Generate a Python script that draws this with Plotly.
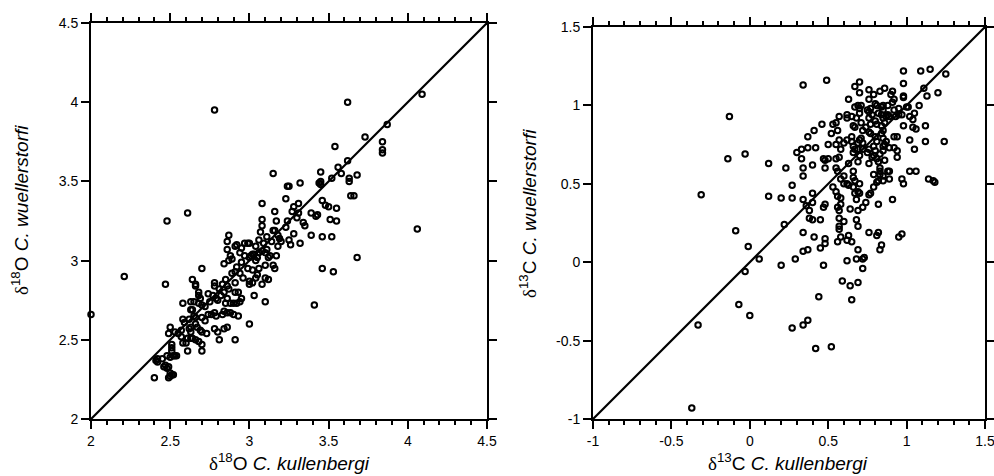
import plotly.graph_objects as go

# ---------------- data: delta 18O ----------------
o18_kullenbergi = [
    2.00, 2.21, 2.47, 2.48, 2.61, 2.78, 3.62, 4.09, 3.87, 3.73, 3.54, 3.84, 3.84, 3.84, 3.62, 3.56, 3.58, 3.68, 3.63, 3.63,
    3.64, 3.66, 3.52, 3.45, 3.45, 3.44, 3.45, 3.15, 3.24, 3.25, 3.32, 3.23, 3.46, 3.48, 3.50, 3.55, 3.42, 3.43, 3.39, 3.51,
    3.55, 4.06, 3.46, 3.52, 3.39, 3.32, 3.46, 3.53, 3.68, 3.41,
    3.08, 3.16, 3.27, 3.28, 3.31, 3.31, 3.34, 3.35, 3.30, 3.08, 3.17, 3.24, 3.23, 3.25, 3.26, 3.28,
    3.08, 3.07, 3.15, 3.16, 3.18, 3.20, 3.18, 3.19, 3.06, 3.09, 3.11, 3.14, 3.11, 3.13, 3.10, 3.12, 3.17,
    3.06, 3.08, 3.04, 3.05, 3.02, 3.03, 3.01, 3.00, 3.04,
    2.87, 2.86, 2.86, 2.91, 2.92, 2.97, 2.99, 3.00, 2.95, 2.97, 2.94,
    2.84, 2.87, 2.88, 2.89, 2.92, 2.95, 2.94, 2.96, 2.99, 3.00, 3.00, 3.02, 3.02, 3.04, 3.05, 3.06,
    3.10, 3.08, 3.10, 3.12, 3.10, 3.03, 3.15, 3.16,
    2.70, 2.64, 2.66, 2.66, 2.78, 2.78, 2.81, 2.83, 2.84, 2.85, 2.86, 2.87, 2.89, 2.91, 2.91,
    2.68, 2.68, 2.69, 2.74, 2.77, 2.75, 2.79, 2.80, 2.82, 2.86, 2.85, 2.88, 2.90, 2.92, 2.91, 2.93, 2.95, 2.94,
    2.58, 2.63, 2.65, 2.68, 2.70, 2.72, 2.74, 2.76, 2.78, 2.79, 2.83, 2.84, 2.86, 2.88, 2.90, 2.93,
    2.63, 2.64, 2.65, 2.66, 2.70, 2.67, 2.66,
    2.58, 2.59, 2.62, 2.63, 2.62, 2.63,
    2.72, 2.78, 2.80, 2.84, 2.86, 2.81, 2.91, 3.00,
    2.50, 2.49, 2.53, 2.55, 2.57, 2.57, 2.58, 2.60, 2.61, 2.63, 2.64, 2.66, 2.68, 2.70, 2.70, 2.69, 2.70, 2.73, 2.61,
    2.51, 2.51, 2.51, 2.52, 2.53, 2.54, 2.50,
    2.42, 2.41, 2.42, 2.45, 2.47, 2.46, 2.48, 2.49, 2.48,
    2.40, 2.49, 2.50, 2.51, 2.52, 2.50,
]
o18_wuellerstorfi = [
    2.66, 2.90, 2.85, 3.25, 3.30, 3.95, 4.00, 4.05, 3.86, 3.78, 3.72, 3.75, 3.70, 3.68, 3.63, 3.59, 3.55, 3.54, 3.52, 3.50,
    3.41, 3.41, 3.52, 3.56, 3.50, 3.49, 3.48, 3.55, 3.47, 3.47, 3.49, 3.39, 3.38, 3.35, 3.34, 3.33, 3.28, 3.29, 3.30, 3.26,
    3.25, 3.20, 3.15, 3.15, 3.16, 3.11, 2.95, 2.93, 3.02, 2.72,
    3.36, 3.31, 3.31, 3.34, 3.36, 3.30, 3.24, 3.22, 3.27, 3.26, 3.25, 3.25, 3.21, 3.13, 3.10, 3.17,
    3.22, 3.18, 3.19, 3.19, 3.16, 3.12, 3.09, 3.14, 3.13, 3.11, 3.15, 3.12, 3.07, 3.03, 3.05, 3.02, 3.03,
    3.05, 3.06, 3.00, 3.02, 3.04, 3.04, 3.03, 3.02, 3.09,
    3.16, 3.12, 3.07, 3.09, 3.10, 3.11, 3.11, 3.11, 3.08, 3.03, 3.05,
    2.98, 3.00, 3.03, 3.01, 2.96, 2.99, 2.92, 2.89, 2.95, 2.85, 2.87, 2.94, 2.86, 2.89, 2.91, 2.95,
    2.97, 2.85, 2.89, 2.88, 2.74, 2.78, 2.97, 2.95,
    2.95, 2.88, 2.85, 2.84, 2.86, 2.84, 2.82, 2.85, 2.80, 2.88, 2.84, 2.82, 2.92, 2.93, 2.86,
    2.80, 2.78, 2.76, 2.79, 2.78, 2.74, 2.76, 2.75, 2.78, 2.76, 2.73, 2.73, 2.73, 2.73, 2.80, 2.80, 2.76, 2.74,
    2.73, 2.74, 2.74, 2.73, 2.72, 2.71, 2.66, 2.66, 2.67, 2.65, 2.66, 2.68, 2.67, 2.67, 2.66, 2.65,
    2.69, 2.69, 2.65, 2.64, 2.64, 2.58, 2.60,
    2.63, 2.61, 2.63, 2.58, 2.57, 2.55,
    2.62, 2.57, 2.55, 2.57, 2.58, 2.50, 2.50, 2.60,
    2.58, 2.54, 2.55, 2.54, 2.56, 2.52, 2.48, 2.48, 2.51, 2.51, 2.51, 2.50, 2.49, 2.47, 2.43, 2.56, 2.55, 2.54, 2.43,
    2.47, 2.45, 2.43, 2.40, 2.40, 2.40, 2.39,
    2.38, 2.37, 2.36, 2.38, 2.34, 2.33, 2.32, 2.33, 2.40,
    2.26, 2.26, 2.27, 2.28, 2.28, 2.29,
]

# ---------------- data: delta 13C ----------------
c13_kullenbergi = [
    -0.37, -0.33, -0.31, -0.13, -0.14, -0.03, -0.09, -0.01, 0.06, -0.03, -0.07, 0.00,
    0.12, 0.12, 0.20, 0.20, 0.23, 0.22, 0.27, 0.27, 0.29, 0.27, 0.34, 0.37, 0.42, 0.52, 0.44,
    0.34, 0.49, 0.30, 0.33, 0.33, 0.34, 0.34, 0.37, 0.41, 0.37, 0.42, 0.40, 0.34, 0.36, 0.38, 0.38, 0.40, 0.40, 0.40,
    0.34, 0.41, 0.37, 0.34, 0.45, 0.48, 0.48, 0.47, 0.45, 0.47, 0.48,
    0.46, 0.50, 0.47, 0.48, 0.50, 0.48, 0.52, 0.53, 0.55, 0.57, 0.55, 0.57, 0.58, 0.56, 0.55, 0.57, 0.55, 0.56, 0.58,
    0.60, 0.60, 0.53, 0.55, 0.56, 0.58, 0.58, 0.56, 0.57, 0.57, 0.57, 0.57, 0.60, 0.56, 0.58, 0.62, 0.63, 0.65,
    0.59, 0.64, 0.65, 0.69, 0.62, 0.68, 0.69, 0.72, 0.73, 0.72, 0.68, 0.69, 0.64, 0.69, 0.68, 0.67, 0.70, 0.69,
    0.72, 0.74, 0.76, 0.77, 0.70, 0.67, 0.63, 0.66, 0.66, 0.66, 0.63, 0.62,
    0.76, 0.81, 0.82, 0.84, 0.83, 0.82, 0.79, 0.81, 0.82, 0.85, 0.83, 0.85, 0.79, 0.83, 0.83, 0.86, 0.88, 0.89,
    0.89, 0.91, 0.95, 0.97, 0.97, 0.98, 1.02, 1.06, 1.14, 1.17, 1.18, 1.24, 1.12, 1.12, 1.05, 1.02, 1.02, 1.04,
    1.05, 1.04, 1.06, 1.00, 1.01, 1.08, 1.11, 1.13, 1.20, 1.25, 1.15, 1.09, 0.98, 0.98, 0.98, 0.98,
    0.90, 0.91, 0.92, 0.91, 0.88, 0.92, 0.93, 0.95, 0.95, 0.97, 0.98, 0.94, 0.92, 0.94, 0.94, 0.92, 0.89, 0.86,
    0.85, 0.87, 0.85, 0.84, 0.85, 0.84, 0.85, 0.84, 0.87, 0.85, 0.84, 0.85, 0.86, 0.83, 0.79, 0.76, 0.76, 0.70,
    0.67, 0.70, 0.63, 0.67, 0.69, 0.71, 0.70, 0.70, 0.68, 0.65, 0.66, 0.71, 0.62, 0.62, 0.67, 0.72, 0.74, 0.71,
    0.69, 0.67, 0.66, 0.69, 0.72, 0.70, 0.69, 0.65, 0.62, 0.60, 0.65, 0.66,
    0.77, 0.76, 0.80, 0.81, 0.82, 0.78, 0.80, 0.75, 0.76, 0.77, 0.81, 0.76, 0.77, 0.80, 0.81, 0.79, 0.76, 0.80,
    0.78, 0.81, 0.76, 0.82, 0.79, 0.75, 0.72, 0.70, 0.85, 0.83, 0.86, 0.88, 0.89,
]
c13_wuellerstorfi = [
    -0.93, -0.40, 0.43, 0.93, 0.66, 0.69, 0.20, 0.10, 0.02, -0.06, -0.27, -0.34,
    0.63, 0.42, 0.41, -0.02, 0.60, 0.24, 0.49, 0.41, 0.02, -0.42, -0.40, -0.37, -0.55, -0.54, -0.22,
    1.13, 1.16, 0.70, 0.72, 0.66, 0.60, 0.55, 0.80, 0.84, 0.73, 0.73, 0.62, 0.40, 0.36, 0.33, 0.28, 0.27, 0.38, 0.44,
    0.19, 0.16, 0.08, 0.07, 0.09, 0.12, 0.15, -0.02, 0.27, 0.35, 0.37,
    0.88, 0.75, 0.66, 0.65, 0.66, 0.60, 0.82, 0.88, 0.89, 0.93, 0.75, 0.78, 0.72, 0.84, 0.66, 0.67, 0.60, 0.58, 0.53,
    0.55, 0.50, 0.48, 0.45, 0.42, 0.41, 0.37, 0.35, 0.33, 0.28, 0.23, 0.21, 0.26, 0.13, 0.16, 0.14, 0.17, 0.13,
    -0.12, -0.15, -0.24, -0.13, 0.01, 0.02, 0.08, 0.02, 0.03, -0.04, 0.27, 0.23, 0.34, 0.33, 0.40, 0.44, 0.44, 0.45,
    0.35, 0.38, 0.43, 0.44, 0.50, 0.52, 0.49, 0.48, 0.54, 0.58, 0.63, 0.50,
    0.19, 0.17, 0.19, 0.11, 0.08, 0.37, 0.48, 0.51, 0.52, 0.52, 0.56, 0.55, 0.56, 0.58, 0.60, 0.65, 0.58, 0.58,
    0.53, 0.40, 0.16, 0.18, 0.53, 0.50, 0.58, 0.58, 0.53, 0.52, 0.51, 0.77, 0.77, 0.87, 0.72, 0.78, 0.93, 0.91,
    0.95, 0.86, 0.85, 0.99, 0.99, 1.00, 1.11, 1.06, 1.08, 1.20, 1.23, 1.22, 1.22, 1.14, 1.06, 1.05,
    1.07, 1.09, 1.04, 1.02, 1.00, 0.97, 0.93, 0.94, 0.98, 0.94, 0.87, 0.80, 0.80, 0.71, 0.67, 0.73, 0.73, 0.75,
    0.71, 0.77, 0.79, 0.82, 0.84, 0.87, 0.92, 0.94, 0.93, 0.97, 0.99, 1.00, 1.11, 1.09, 1.07, 1.10, 1.04, 1.15,
    1.12, 1.08, 1.04, 0.99, 1.00, 1.00, 0.95, 0.98, 0.92, 0.93, 0.87, 0.89, 0.94, 0.92, 0.86, 0.84, 0.86, 0.79,
    0.76, 0.72, 0.70, 0.72, 0.72, 0.68, 0.64, 0.80, 0.78, 0.76, 0.77, 0.74,
    0.98, 0.96, 1.01, 1.00, 0.95, 0.94, 0.90, 0.97, 0.92, 0.88, 0.88, 0.83, 0.82, 0.80, 0.77, 0.74, 0.72, 0.71,
    0.67, 0.66, 0.63, 0.64, 0.68, 0.70, 0.76, 0.78, 0.74, 0.69, 0.89, 0.94, 0.93,
]

assert len(o18_kullenbergi) == len(o18_wuellerstorfi), (len(o18_kullenbergi), len(o18_wuellerstorfi))
assert len(c13_kullenbergi) == len(c13_wuellerstorfi), (len(c13_kullenbergi), len(c13_wuellerstorfi))

# axis ranges / ticks
o18_range = [2, 4.5]
o18_ticks = [2, 2.5, 3, 3.5, 4, 4.5]
o18_ticklabels = ["2", "2.5", "3", "3.5", "4", "4.5"]
c13_range = [-1, 1.5]
c13_ticks = [-1, -0.5, 0, 0.5, 1, 1.5]
c13_ticklabels = ["-1", "-0.5", "0", "0.5", "1", "1.5"]

W, H = 994, 476
FONT = "Liberation Sans, Arial, sans-serif"
DELTA = "<span style='font-family:Liberation Serif, Times New Roman, serif'>δ</span>"

marker = dict(symbol="circle-open", size=5.5, color="black", line=dict(width=2, color="black"))

fig = go.Figure()
fig.add_trace(go.Scatter(x=o18_range, y=o18_range, mode="lines", line=dict(color="black", width=2.2),
                         xaxis="x", yaxis="y", showlegend=False, hoverinfo="skip"))
fig.add_trace(go.Scatter(x=o18_kullenbergi, y=o18_wuellerstorfi, mode="markers", marker=marker,
                         xaxis="x", yaxis="y", showlegend=False, cliponaxis=False))
fig.add_trace(go.Scatter(x=c13_range, y=c13_range, mode="lines", line=dict(color="black", width=2.2),
                         xaxis="x2", yaxis="y2", showlegend=False, hoverinfo="skip"))
fig.add_trace(go.Scatter(x=c13_kullenbergi, y=c13_wuellerstorfi, mode="markers", marker=marker,
                         xaxis="x2", yaxis="y2", showlegend=False, cliponaxis=False))


def ax(domain, rng, tickvals, ticktext, anchor, minor):
    d = dict(domain=domain, range=rng, tickmode="array", tickvals=tickvals, ticktext=ticktext,
             ticks="outside", ticklen=8, tickwidth=1.8, tickcolor="#000000",
             showline=True, linewidth=2, linecolor="#000000", mirror="allticks",
             showgrid=False, zeroline=False, anchor=anchor, automargin=False,
             ticklabeloverflow="allow",
             tickfont=dict(family=FONT, size=14, color="black"))
    if minor:
        d["minor"] = dict(tickmode="linear", tick0=rng[0], dtick=0.1, ticks="outside",
                          ticklen=4, tickwidth=1.5, tickcolor="#000000", showgrid=False)
    return d


def px_x(p):
    return p / W


def px_y(p):
    return 1 - p / H


fig.update_layout(
    width=W, height=H,
    margin=dict(l=0, r=0, t=0, b=0, pad=0, autoexpand=False),
    paper_bgcolor="white", plot_bgcolor="white",
    xaxis=ax([px_x(91), px_x(487)], o18_range, o18_ticks, o18_ticklabels, "y", True),
    yaxis=ax([px_y(419), px_y(23)], o18_range, o18_ticks, o18_ticklabels, "x", False),
    xaxis2=ax([px_x(593), px_x(985)], c13_range, c13_ticks, c13_ticklabels, "y2", True),
    yaxis2=ax([px_y(419), px_y(27)], c13_range, c13_ticks, c13_ticklabels, "x2", False),
)

title_font = dict(family=FONT, size=19, color="black")
annotations = [
    dict(text=DELTA + "<sup>18</sup>O <i>C. kullenbergi</i>", x=px_x(289), y=px_y(462)),
    dict(text=DELTA + "<sup>18</sup>O <i>C. wuellerstorfi</i>", x=px_x(20), y=px_y(210), textangle=-90),
    dict(text=DELTA + "<sup>13</sup>C <i>C. kullenbergi</i>", x=px_x(788), y=px_y(462)),
    dict(text=DELTA + "<sup>13</sup>C <i>C. wuellerstorfi</i>", x=px_x(528), y=px_y(214), textangle=-90),
]
for a in annotations:
    fig.add_annotation(xref="paper", yref="paper", xanchor="center", yanchor="middle",
                       showarrow=False, font=title_font, **a)

fig.write_html(
    "out.html",
    config={"displayModeBar": False},
    post_script="document.body.style.margin='0';document.body.style.padding='0';"
                "document.documentElement.style.overflow='hidden';",
)
